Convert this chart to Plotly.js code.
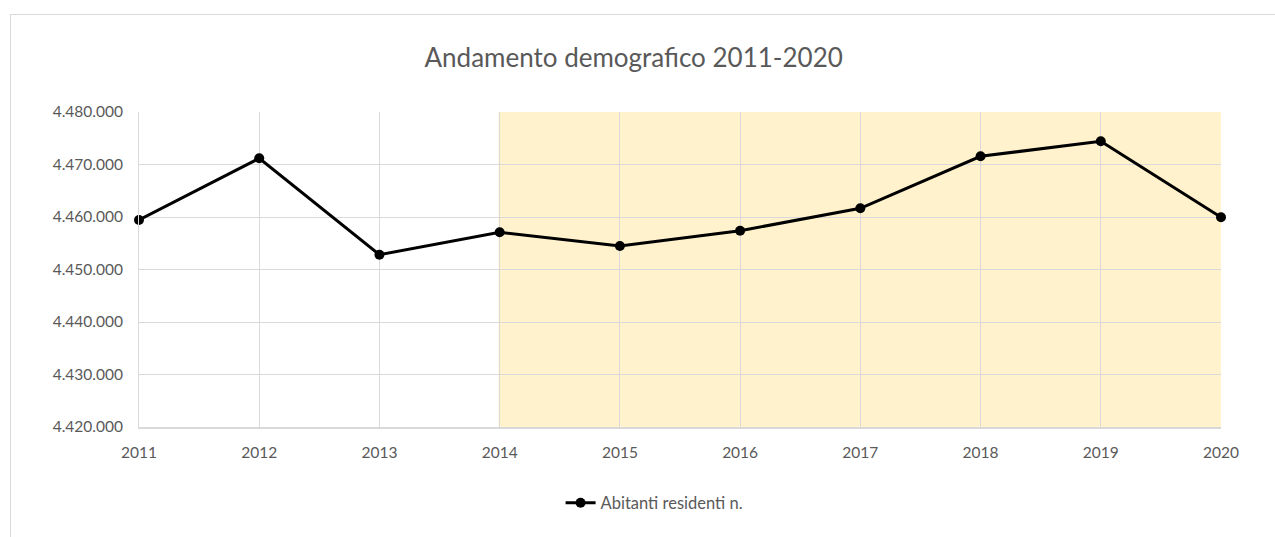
<!DOCTYPE html>
<html>
<head>
<meta charset="utf-8">
<script src="https://cdn.plot.ly/plotly-3.0.1.min.js"></script>
<style>
	html, body { margin: 0; padding: 0; background: #ffffff; overflow: hidden; }
	#frame {
		position: absolute; left: 10px; top: 14px;
		width: 1300px; height: 600px;
		border: 1px solid #d9d9d9; box-sizing: border-box;
	}
	#chart { position: absolute; left: 0; top: 0; width: 1275px; height: 537px; }
</style>
</head>
<body>
<div id="frame"></div>
<div id="chart"></div>
<script>
// chart data
const years = [2011, 2012, 2013, 2014, 2015, 2016, 2017, 2018, 2019, 2020];
const residents = [4459430, 4471180, 4452820, 4457090, 4454480, 4457390, 4461660, 4471560, 4474420, 4459940];
const seriesName = "Abitanti residenti n.";
const chartTitle = "Andamento demografico 2011-2020";

// highlighted period
const shadeStart = 2014;
const shadeEnd = 2020;

const textColor = "#595959";
const gridColor = "#d9d9d9";
const fontFamily = "Lato, 'Open Sans', sans-serif";

const data = [{
	x: years,
	y: residents,
	type: "scatter",
	mode: "lines+markers",
	name: seriesName,
	line: { color: "#000000", width: 3 },
	marker: { color: "#000000", size: 10 },
	cliponaxis: false,
	showlegend: true,
}];

const layout = {
	width: 1275,
	height: 537,
	paper_bgcolor: "rgba(0,0,0,0)",
	plot_bgcolor: "rgba(0,0,0,0)",
	separators: ",.",
	font: { family: fontFamily, color: textColor, size: 15 },
	title: {
		text: chartTitle,
		font: { family: fontFamily, size: 26, color: textColor },
		x: 0.497, xref: "container", xanchor: "center",
		y: 1 - 58 / 537, yref: "container", yanchor: "middle",
	},
	margin: { l: 139, r: 54, t: 112, b: 110 },
	xaxis: {
		range: [2011, 2020],
		tickvals: years,
		ticktext: years.map(String),
		showgrid: true,
		gridcolor: gridColor,
		gridwidth: 1,
		zeroline: false,
		showline: true,
		linecolor: gridColor,
		linewidth: 2,
		ticks: "outside",
		ticklen: 10,
		tickcolor: "rgba(0,0,0,0)",
		tickfont: { size: 15.5, color: textColor },
	},
	yaxis: {
		range: [4420000, 4480000],
		dtick: 10000,
		tick0: 4420000,
		tickformat: ",d",
		showgrid: true,
		gridcolor: gridColor,
		gridwidth: 1,
		zeroline: false,
		showline: true,
		linecolor: gridColor,
		linewidth: 1,
		ticks: "outside",
		ticklen: 12,
		tickcolor: "rgba(0,0,0,0)",
		tickfont: { size: 15.5, color: textColor },
	},
	shapes: [{
		type: "rect",
		xref: "x", yref: "paper",
		x0: shadeStart - 0.01, x1: shadeEnd,
		y0: 0, y1: 1,
		fillcolor: "#fff2cc",
		line: { width: 0 },
		layer: "below",
	}],
	showlegend: true,
	legend: {
		orientation: "h",
		xref: "container", yref: "container",
		x: 0.513, xanchor: "center",
		y: 1 - 503 / 537, yanchor: "middle",
		font: { size: 16.5, color: textColor },
		bgcolor: "rgba(0,0,0,0)",
	},
};

Plotly.newPlot("chart", data, layout, { displayModeBar: false, staticPlot: true });
</script>
</body>
</html>
